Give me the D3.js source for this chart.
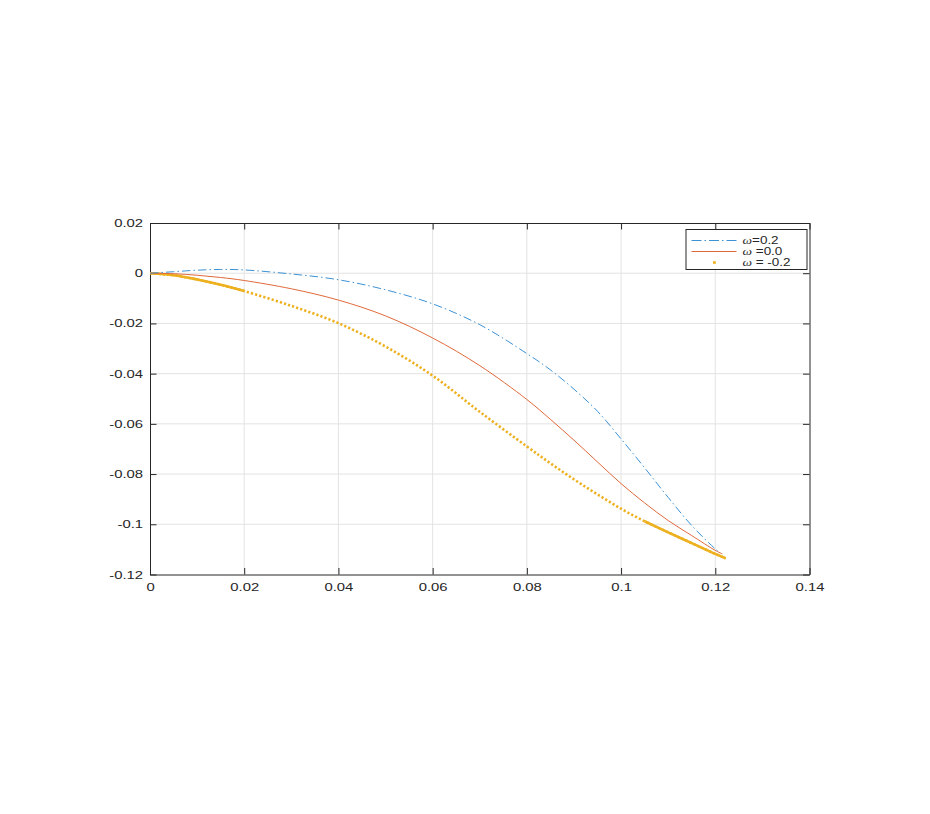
<!DOCTYPE html>
<html>
<head>
<meta charset="utf-8">
<script src="https://cdn.jsdelivr.net/npm/d3@7"></script>
<style>
  html, body { margin: 0; padding: 0; background: #ffffff; }
  svg { display: block; }
</style>
</head>
<body>
<div id="chart"></div>
<script>
// ---- data ----
const xTicks = [0, 0.02, 0.04, 0.06, 0.08, 0.1, 0.12, 0.14];
const xTickLabels = ["0", "0.02", "0.04", "0.06", "0.08", "0.1", "0.12", "0.14"];
const yTicks = [0.02, 0, -0.02, -0.04, -0.06, -0.08, -0.1, -0.12];
const yTickLabels = ["0.02", "0", "-0.02", "-0.04", "-0.06", "-0.08", "-0.1", "-0.12"];

const xBlue   = [0, 0.005, 0.01, 0.015, 0.02, 0.03, 0.04, 0.05, 0.06, 0.07, 0.08, 0.085, 0.09, 0.095, 0.10, 0.105, 0.11, 0.115, 0.12, 0.121];
const yBlue   = [0, 0.0006, 0.0012, 0.0015, 0.0013, -0.0003, -0.0026, -0.0066, -0.0122, -0.0205, -0.032, -0.0385, -0.0462, -0.0550, -0.066, -0.0775, -0.0893, -0.1005, -0.1098, -0.1113];

const xRed    = [0, 0.005, 0.01, 0.015, 0.02, 0.03, 0.04, 0.05, 0.06, 0.07, 0.08, 0.085, 0.09, 0.095, 0.10, 0.105, 0.11, 0.115, 0.12, 0.1215];
const yRed    = [0, -0.0002, -0.0008, -0.0017, -0.0029, -0.0062, -0.0107, -0.0170, -0.0258, -0.0368, -0.0503, -0.0582, -0.0665, -0.0752, -0.0838, -0.0915, -0.0985, -0.1045, -0.1104, -0.1118];

const xYellow = [0, 0.005, 0.01, 0.015, 0.02, 0.03, 0.04, 0.05, 0.06, 0.07, 0.08, 0.085, 0.09, 0.095, 0.10, 0.105, 0.11, 0.115, 0.12, 0.1222];
const yYellow = [0, -0.0008, -0.0025, -0.0046, -0.0071, -0.013, -0.0199, -0.0292, -0.0408, -0.0552, -0.0690, -0.0757, -0.0821, -0.0881, -0.0938, -0.0988, -0.1032, -0.1075, -0.1118, -0.1135];

const seriesNames = ["=0.2", " =0.0", " = -0.2"];

// ---- layout ----
const W = 930, H = 814;
const pLeft = 150, pRight = 809.5, pTop = 223, pBottom = 574.5;
const stretch = 1.35;   // reference text is horizontally stretched

const svg = d3.select("#chart").append("svg").attr("width", W).attr("height", H);

const x = d3.scaleLinear().domain([0, 0.14]).range([pLeft, pRight]);
const y = d3.scaleLinear().domain([-0.12, 0.02]).range([pBottom, pTop]);

const axisColor = "#262626";
const gridColor = "#e3e3e3";
const font = "'Liberation Sans', Arial, Helvetica, sans-serif";

// grid
const g = svg.append("g");
g.selectAll(".vg").data(xTicks.slice(1, -1)).enter().append("line")
  .attr("x1", d => x(d)).attr("x2", d => x(d))
  .attr("y1", pTop).attr("y2", pBottom)
  .attr("stroke", gridColor).attr("stroke-width", 1);
g.selectAll(".hg").data(yTicks.slice(1, -1)).enter().append("line")
  .attr("x1", pLeft).attr("x2", pRight)
  .attr("y1", d => y(d)).attr("y2", d => y(d))
  .attr("stroke", gridColor).attr("stroke-width", 1);

// axes with inward ticks
const tickLen = 6.5;
const xAxisB = d3.axisBottom(x).tickValues(xTicks).tickSize(-tickLen).tickSizeOuter(0).tickPadding(8.5)
  .tickFormat((d, i) => xTickLabels[i]);
const xAxisT = d3.axisTop(x).tickValues(xTicks).tickSize(-tickLen).tickSizeOuter(0).tickFormat("");
const yAxisL = d3.axisLeft(y).tickValues(yTicks).tickSize(-tickLen).tickSizeOuter(0).tickPadding(7)
  .tickFormat((d, i) => yTickLabels[i]);
const yAxisR = d3.axisRight(y).tickValues(yTicks).tickSize(-tickLen).tickSizeOuter(0).tickFormat("");

function styleAxis(sel) {
  sel.select(".domain").attr("stroke", axisColor).attr("stroke-width", 1);
  sel.selectAll(".tick line").attr("stroke", axisColor).attr("stroke-width", 1);
  sel.selectAll(".tick text").attr("fill", axisColor).style("font-family", font).style("font-size", "11px");
}
const gxb = svg.append("g").attr("transform", `translate(0,${pBottom})`).call(xAxisB).call(styleAxis);
svg.append("g").attr("transform", `translate(0,${pTop})`).call(xAxisT).call(styleAxis);
const gyl = svg.append("g").attr("transform", `translate(${pLeft},0)`).call(yAxisL).call(styleAxis);
svg.append("g").attr("transform", `translate(${pRight},0)`).call(yAxisR).call(styleAxis);

// horizontal stretch of tick labels (keeping anchor positions)
gxb.selectAll(".tick text").attr("transform", `scale(${stretch},1)`);
gyl.selectAll(".tick text").each(function() {
  const t = d3.select(this);
  const x0 = +t.attr("x");
  t.attr("x", x0 / stretch).attr("transform", `scale(${stretch},1)`);
});

// lines
const line = d3.line().x(d => x(d[0])).y(d => y(d[1])).curve(d3.curveCatmullRom.alpha(0.5));
const blue = xBlue.map((v, i) => [v, yBlue[i]]);
const red = xRed.map((v, i) => [v, yRed[i]]);
const yellow = xYellow.map((v, i) => [v, yYellow[i]]);

const colBlue = "#3d92d4", colRed = "#e0693a", colYellow = "#EDB120";

svg.append("path").datum(yellow).attr("d", line)
  .attr("fill", "none").attr("stroke", colYellow).attr("stroke-width", 2.6)
  .attr("stroke-dasharray", "2.2,2.1");
svg.append("path").datum(yellow.filter(d => d[0] <= 0.025)).attr("d", line)
  .attr("fill", "none").attr("stroke", colYellow).attr("stroke-width", 2.6);
svg.append("path").datum(yellow.filter(d => d[0] >= 0.105)).attr("d", line)
  .attr("fill", "none").attr("stroke", colYellow).attr("stroke-width", 2.6);

svg.append("path").datum(red).attr("d", line)
  .attr("fill", "none").attr("stroke", colRed).attr("stroke-width", 1);

svg.append("path").datum(blue).attr("d", line)
  .attr("fill", "none").attr("stroke", colBlue).attr("stroke-width", 1)
  .attr("stroke-dasharray", "8.5,3,1.5,3");

// legend
const lg = svg.append("g");
const lx = 686, ly = 229.5, lw = 121, lh = 40;
lg.append("rect").attr("x", lx).attr("y", ly).attr("width", lw).attr("height", lh)
  .attr("fill", "#ffffff").attr("stroke", axisColor).attr("stroke-width", 1);
const rows = [ly + 11, ly + 22, ly + 33];
lg.append("line").attr("x1", lx + 5.5).attr("x2", lx + 50.5).attr("y1", rows[0]).attr("y2", rows[0])
  .attr("stroke", colBlue).attr("stroke-width", 1).attr("stroke-dasharray", "10,3,1.5,3");
lg.append("line").attr("x1", lx + 5.5).attr("x2", lx + 50.5).attr("y1", rows[1]).attr("y2", rows[1])
  .attr("stroke", colRed).attr("stroke-width", 1);
lg.append("rect").attr("x", lx + 27).attr("y", rows[2] - 1.3).attr("width", 2.8).attr("height", 2.6)
  .attr("fill", colYellow);
seriesNames.forEach((name, i) => {
  const t = lg.append("text").attr("x", (lx + 56.5) / stretch).attr("y", rows[i] + 3.6)
    .attr("transform", `scale(${stretch},1)`)
    .attr("fill", axisColor).style("font-family", font).style("font-size", "10px");
  t.append("tspan").style("font-style", "italic").style("font-family", "'Liberation Serif', 'DejaVu Serif', serif").text("\u03C9");
  t.append("tspan").text(name);
});
</script>
</body>
</html>
